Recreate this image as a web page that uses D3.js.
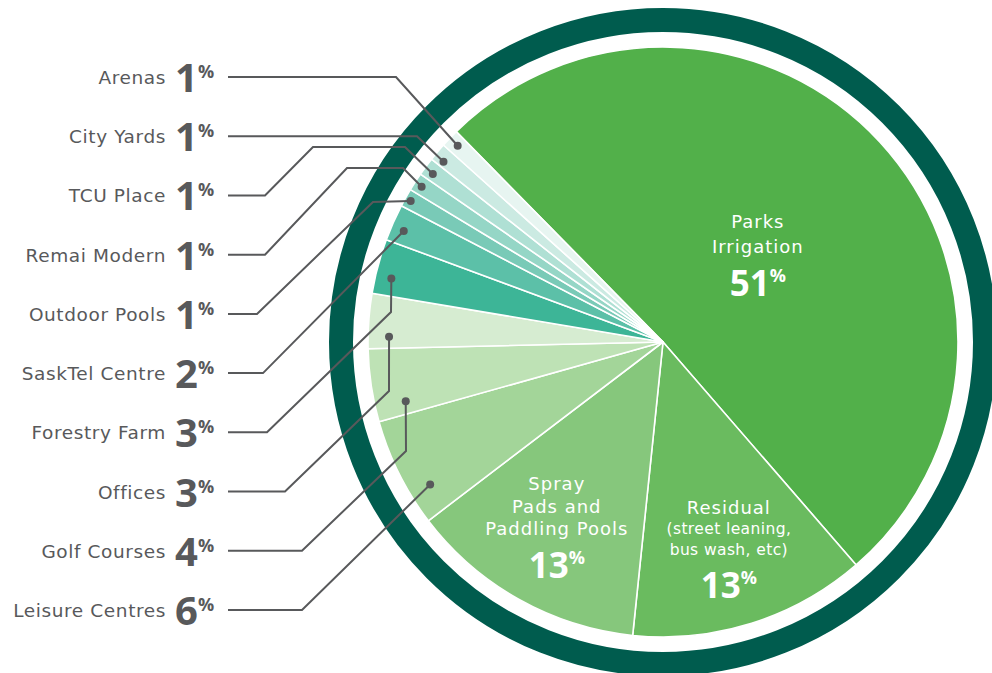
<!DOCTYPE html>
<html>
<head>
<meta charset="utf-8">
<script src="https://cdn.jsdelivr.net/npm/d3@7"></script>
<style>
  html, body { margin: 0; padding: 0; background: #ffffff; }
  svg { display: block; }
</style>
</head>
<body>
<svg id="chart" width="992" height="673"></svg>
<script>
// ---------------- DATA ----------------
const categories = [
  "Parks Irrigation", "Residual", "Spray Pads and Paddling Pools",
  "Leisure Centres", "Golf Courses", "Offices", "Forestry Farm",
  "SaskTel Centre", "Outdoor Pools", "Remai Modern", "TCU Place",
  "City Yards", "Arenas"
];
const values = [51, 13, 13, 6, 4, 3, 3, 2, 1, 1, 1, 1, 1];
const sliceColors = [
  "#52b04a", "#6abb5f", "#86c77c", "#a3d599", "#bee2b5", "#d6ecd1",
  "#3db597", "#5cc0a8", "#79cab7", "#95d6c6", "#afe0d4", "#cbeae2", "#e7f5f1"
];
// left-side labels, top to bottom
const sideLabels = [
  "Arenas", "City Yards", "TCU Place", "Remai Modern", "Outdoor Pools",
  "SaskTel Centre", "Forestry Farm", "Offices", "Golf Courses", "Leisure Centres"
];
// inner labels
const innerLabels = {
  "Parks Irrigation": ["Parks", "Irrigation"],
  "Spray Pads and Paddling Pools": ["Spray", "Pads and", "Paddling Pools"],
  "Residual": ["Residual", "(street leaning,", "bus wash, etc)"]
};

// ---------------- LAYOUT ----------------
const W = 992, H = 673;
const cx = 663, cy = 342;
const R = 295;
const ringR = 322, ringW = 24;
const textColor = "#58595b";
const ringColor = "#005c4e";
const textFont = "'DejaVu Sans', 'Open Sans', sans-serif";
const numFont = "'Open Sans', 'DejaVu Sans', sans-serif";

// leader lines: bend points (after the horizontal start), and dot placement inside slice
const leaderLayout = {
  "Arenas":          { x1: 396, bends: [], frac: 0.50, r: 284 },
  "City Yards":      { x1: 417, bends: [], frac: 0.30, r: 284 },
  "TCU Place":       { x1: 265, bends: [[313,147],[405,147]], frac: 0.40, r: 285 },
  "Remai Modern":    { x1: 265, bends: [[347,168],[403,168]], frac: 0.46, r: 287 },
  "Outdoor Pools":   { x1: 257, bends: [[373,202]], frac: 0.47, r: 289 },
  "SaskTel Centre":  { x1: 263, bends: [], frac: 0.40, r: 282 },
  "Forestry Farm":   { x1: 267, bends: [[391,312]], frac: 0.34, r: 279 },
  "Offices":         { x1: 285, bends: [[389,391]], frac: 0.22, r: 274 },
  "Golf Courses":    { x1: 302, bends: [[406,451]], frac: 0.19, r: 264 },
  "Leisure Centres": { x1: 302, bends: [], frac: 0.27, r: 273 }
};

const svg = d3.select("#chart");
const deg = Math.PI / 180;

const data = categories.map((c, i) => ({ name: c, value: values[i], color: sliceColors[i] }));

const pie = d3.pie()
  .sort(null)
  .value(d => d.value)
  .startAngle(-44.5 * deg)
  .endAngle(315.5 * deg);

const arcs = pie(data);
const arc = d3.arc().innerRadius(0).outerRadius(R);

// outer ring
svg.append("circle")
  .attr("cx", cx).attr("cy", cy)
  .attr("r", ringR)
  .attr("fill", "none")
  .attr("stroke", ringColor)
  .attr("stroke-width", ringW);

const g = svg.append("g").attr("transform", `translate(${cx},${cy})`);

g.selectAll("path.slice")
  .data(arcs)
  .join("path")
  .attr("class", "slice")
  .attr("d", arc)
  .attr("fill", d => d.data.color)
  .attr("stroke", "#ffffff")
  .attr("stroke-width", 1.6)
  .attr("stroke-linejoin", "round");

// inner labels
const innerCfg = {
  "Parks Irrigation": { r: 129, dys: [-27, -2], numDy: 41 },
  "Spray Pads and Paddling Pools": { r: 217, dys: [-41, -18, 4], numDy: 47 },
  "Residual": { r: 219, dys: [-37, -17, 4], numDy: 47 }
};
arcs.forEach(a => {
  const cfg = innerCfg[a.data.name];
  if (!cfg) return;
  const mid = (a.startAngle + a.endAngle) / 2;
  const [px, py] = d3.pointRadial(mid, cfg.r);
  const lines = innerLabels[a.data.name];
  lines.forEach((t, i) => {
    const small = a.data.name === "Residual" && i > 0;
    g.append("text")
      .attr("x", px).attr("y", py + cfg.dys[i])
      .attr("text-anchor", "middle")
      .attr("fill", "#ffffff")
      .attr("font-family", textFont)
      .attr("font-size", small ? 15.5 : 18)
      .attr("letter-spacing", small ? 0.4 : 1)
      .text(t);
  });
  const num = g.append("text")
    .attr("x", px).attr("y", py + cfg.numDy)
    .attr("text-anchor", "middle")
    .attr("fill", "#ffffff")
    .attr("font-family", numFont)
    .attr("font-weight", 700)
    .attr("font-size", 35)
    .text(a.data.value);
  num.append("tspan")
    .attr("font-size", 18)
    .attr("dy", -14)
    .text("%");
});

// left labels
const rowY = d3.scalePoint().domain(sideLabels).range([77, 610]);
const byName = new Map(arcs.map(a => [a.data.name, a]));

const labelG = svg.append("g");
sideLabels.forEach(name => {
  const y = rowY(name);
  const a = byName.get(name);
  labelG.append("text")
    .attr("x", 166).attr("y", y + 7)
    .attr("text-anchor", "end")
    .attr("fill", textColor)
    .attr("font-family", textFont)
    .attr("font-size", 18.5)
    .attr("letter-spacing", 0.6)
    .text(name);
  const t = labelG.append("text")
    .attr("x", 175).attr("y", y + 15)
    .attr("fill", textColor)
    .attr("font-family", numFont)
    .attr("font-weight", 700)
    .attr("font-size", 40)
    .text(a.data.value);
  t.append("tspan")
    .attr("font-size", 18)
    .attr("dy", -14)
    .attr("dx", 0)
    .text("%");

  // leader
  const L = leaderLayout[name];
  const ang = a.startAngle + L.frac * (a.endAngle - a.startAngle);
  const [dx, dy] = d3.pointRadial(ang, L.r);
  const dot = [cx + dx, cy + dy];
  const pts = [[228, y], [L.x1, y], ...L.bends, dot];
  labelG.append("path")
    .attr("d", d3.line()(pts))
    .attr("fill", "none")
    .attr("stroke", textColor)
    .attr("stroke-width", 2)
    .attr("stroke-linejoin", "miter");
  labelG.append("circle")
    .attr("cx", dot[0]).attr("cy", dot[1])
    .attr("r", 4)
    .attr("fill", textColor);
});
</script>
</body>
</html>
